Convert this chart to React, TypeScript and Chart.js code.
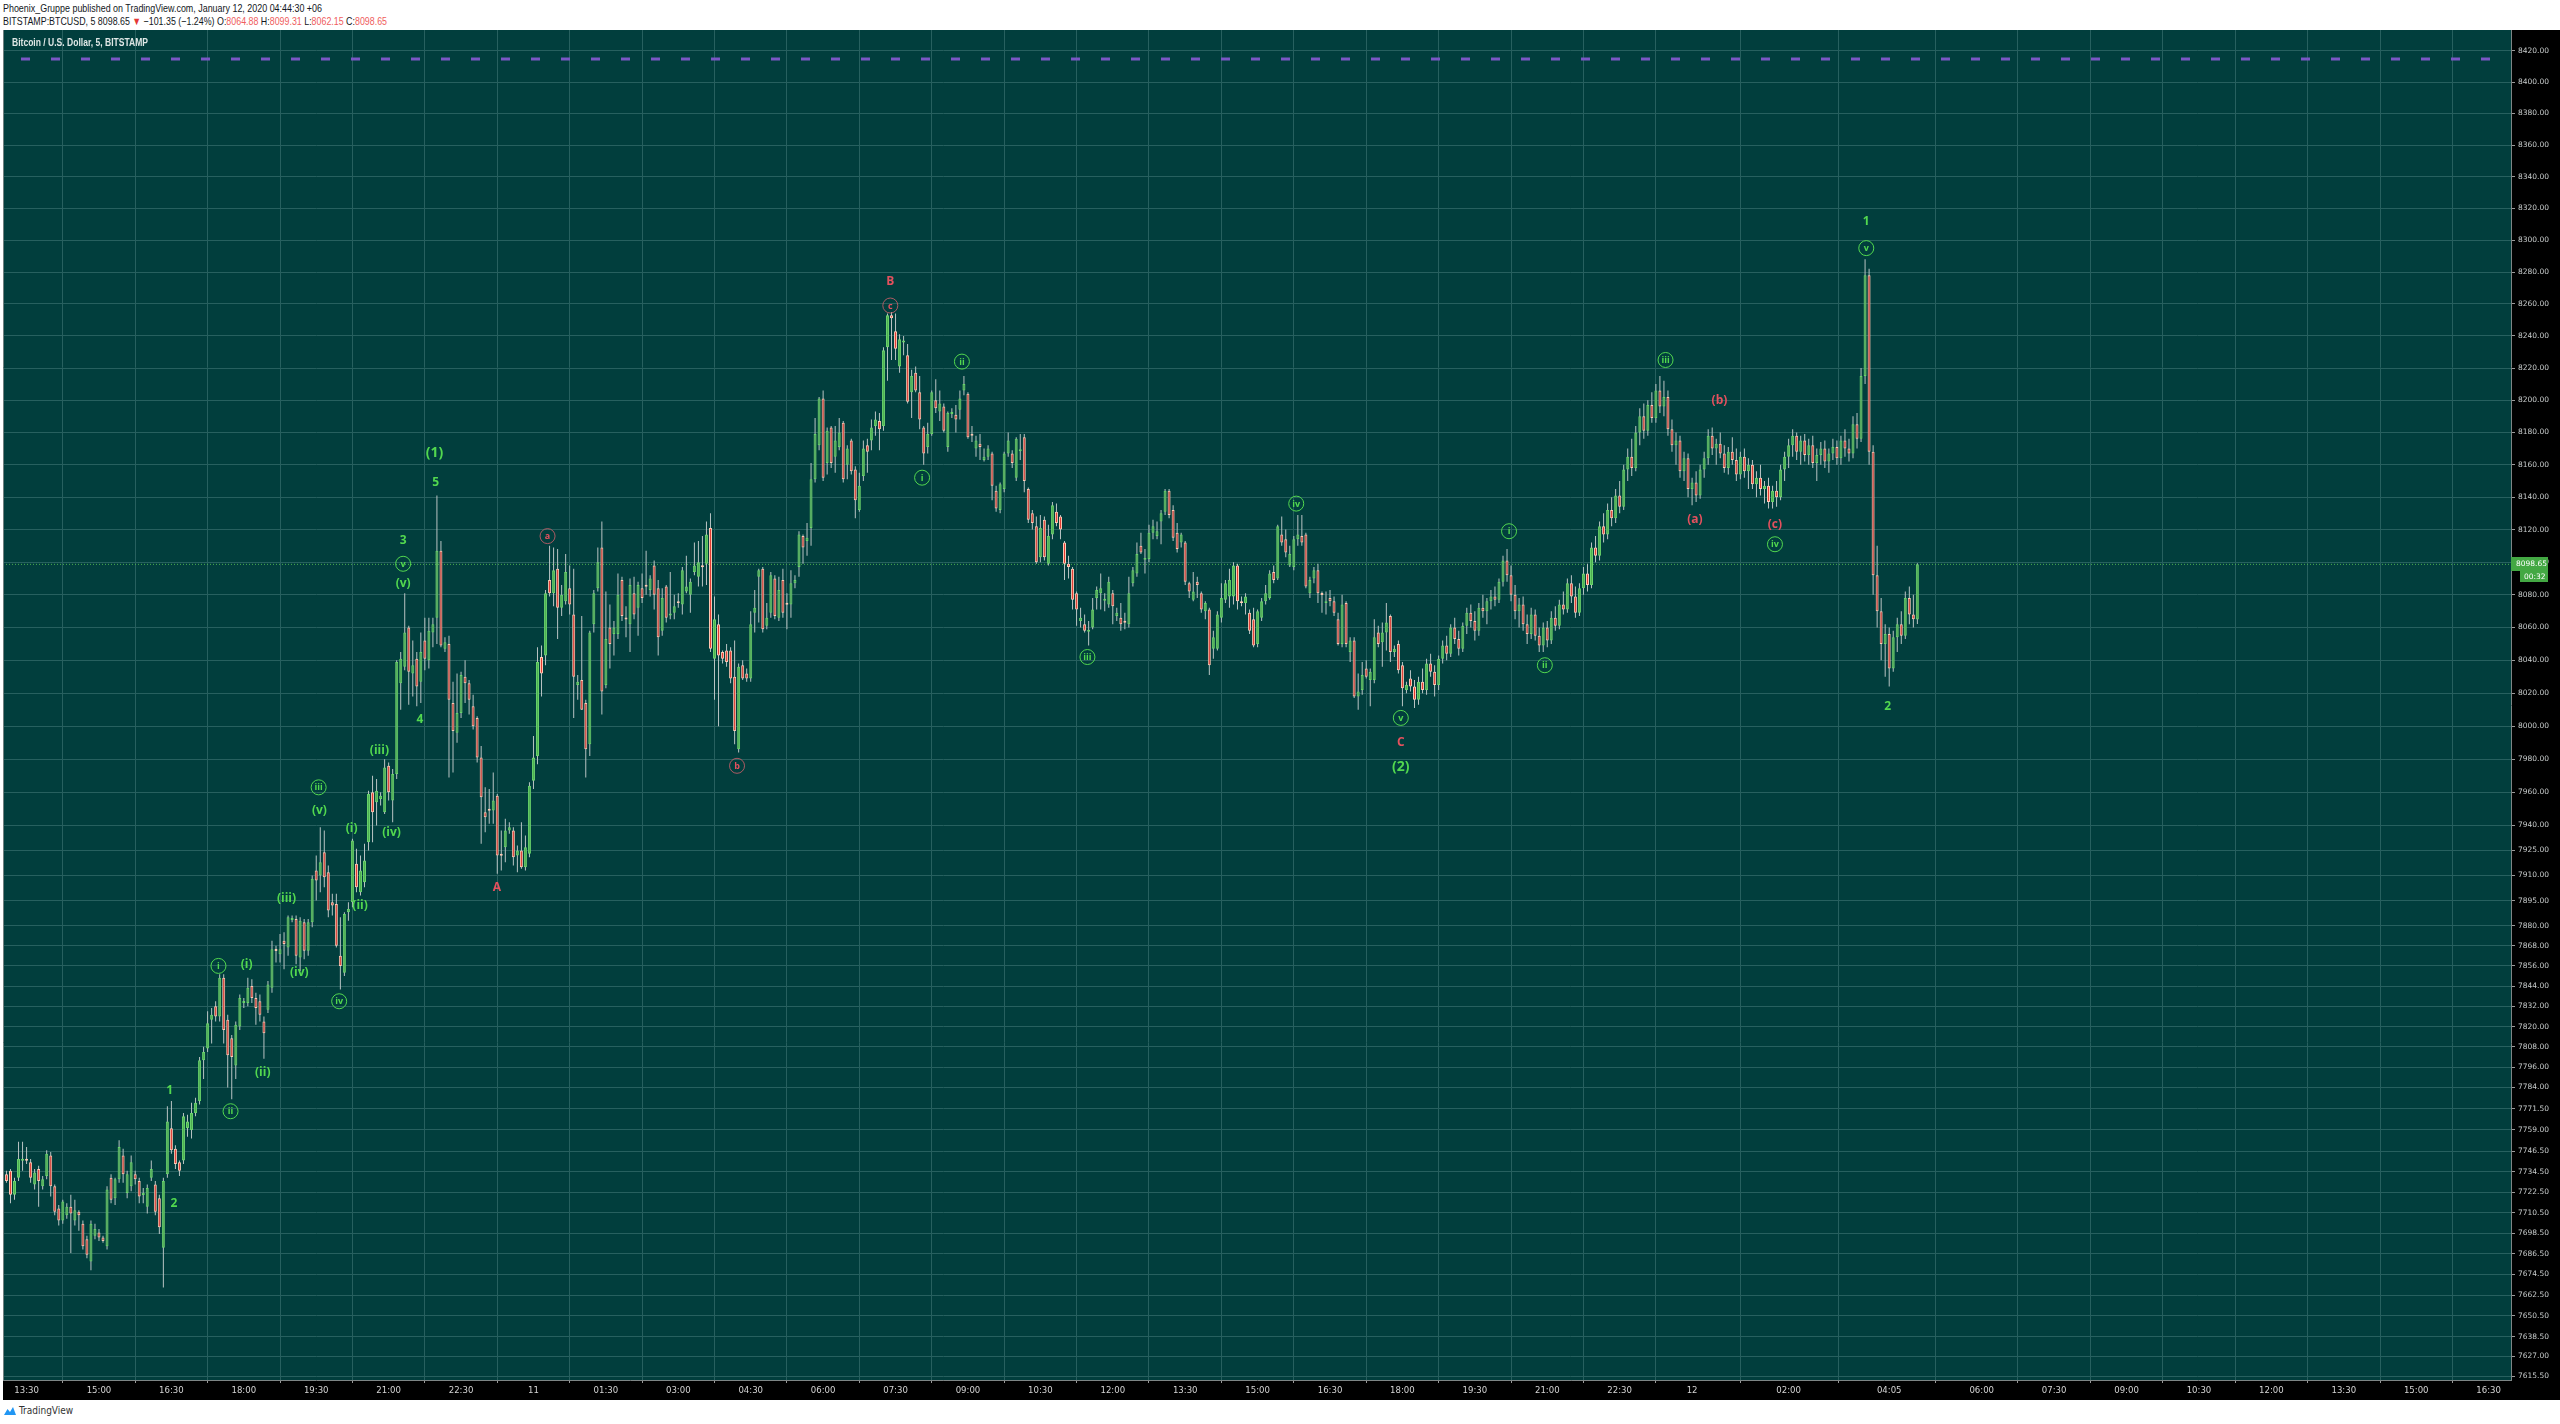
import React, { useEffect, useLayoutEffect, useRef } from 'react';
import { Chart, registerables } from 'chart.js';

Chart.register(...registerables);

// First bar time in minutes relative to 2020-01-11 00:00 (+06), 5-minute bars
const START_MIN = -655;
const BAR_MINUTES = 5;

const OPEN = [
  7733,7735,7721,7731,7741,7742,7740,7727,7736,7726,
  7732,7744,7726,7713,7706,7709,7714,7706,7711,7704,
  7695,7682,7697,7699,7696,7691,7731,7719,7730,7744,
  7722,7726,7733,7729,7721,7714,7731,7727,7719,7690,
  7733,7760,7748,7740,7741,7760,7759,7769,7776,7800,
  7807,7824,7832,7826,7849,7824,7813,7797,7820,7834,
  7834,7844,7837,7835,7823,7830,7843,7866,7863,7871,
  7867,7884,7884,7861,7882,7865,7882,7913,7910,7924,
  7912,7894,7893,7862,7852,7888,7894,7917,7900,7906,
  7930,7960,7954,7956,7948,7976,7955,7971,8026,8036,
  8060,8032,8041,8027,8052,8040,8057,8066,8107,8047,
  8050,8014,7996,8008,8030,8026,8012,8005,7981,7948,
  7950,7949,7958,7923,7927,7937,7937,7922,7925,7915,
  7923,7967,7982,8042,8043,8089,8081,8096,8072,8076,
  8084,8068,8025,8028,8014,7989,8062,8084,8109,8025,
  8060,8056,8056,8089,8066,8062,8081,8072,8084,8086,
  8083,8098,8084,8058,8085,8068,8069,8076,8074,8082,
  8080,8094,8091,8098,8099,8121,8041,8062,8045,8046,
  8046,8030,7986,8037,8032,8029,8069,8091,8096,8061,
  8069,8090,8066,8089,8075,8074,8087,8097,8116,8113,
  8121,8151,8172,8201,8161,8183,8165,8171,8186,8160,
  8175,8157,8132,8153,8172,8175,8184,8187,8184,8233,
  8253,8243,8221,8236,8228,8205,8217,8205,8183,8171,
  8179,8200,8193,8196,8171,8192,8191,8194,8206,8204,
  8179,8170,8173,8163,8165,8167,8144,8132,8145,8167,
  8167,8152,8169,8177,8145,8130,8122,8103,8126,8099,
  8117,8131,8128,8112,8099,8096,8081,8064,8062,8058,
  8060,8078,8081,8077,8074,8081,8067,8066,8064,8062,
  8087,8093,8110,8102,8102,8118,8116,8125,8131,8144,
  8132,8118,8112,8112,8087,8077,8088,8081,8070,8071,
  8047,8047,8066,8077,8079,8079,8098,8076,8075,8069,
  8065,8050,8066,8076,8078,8094,8090,8117,8114,8098,
  8097,8114,8116,8117,8081,8090,8095,8081,8075,8078,
  8076,8065,8050,8075,8045,8052,8018,8022,8035,8028,
  8028,8057,8051,8057,8067,8045,8050,8037,8022,8029,
  8024,8016,8027,8022,8038,8033,8025,8041,8049,8044,
  8060,8053,8047,8061,8069,8064,8058,8072,8070,8076,
  8079,8077,8088,8101,8092,8080,8070,8074,8062,8056,
  8068,8055,8049,8060,8052,8066,8061,8074,8071,8087,
  8079,8069,8084,8093,8086,8109,8104,8122,8117,8132,
  8127,8141,8134,8157,8165,8158,8180,8190,8181,8197,
  8189,8206,8196,8202,8182,8172,8175,8156,8164,8145,
  8149,8141,8157,8164,8178,8170,8173,8167,8158,8168,
  8163,8154,8165,8156,8160,8148,8152,8145,8147,8137,
  8144,8140,8157,8165,8172,8178,8168,8175,8166,8172,
  8161,8166,8170,8162,8167,8171,8164,8175,8170,8167,
  8185,8176,8215,8278,8168,8092,8070,8050,8056,8035,
  8054,8062,8055,8078,8068,8064.88,
];

const HIGH = [
  7735,7736,7731,7752,7752,7749,7742,7736,7738,7732,
  7747,7746,7727,7715,7718,7716,7721,7718,7712,7706,
  7697,7706,7704,7701,7697,7726,7733,7731,7753,7748,
  7735,7744,7735,7731,7725,7727,7741,7729,7721,7731,
  7773,7776,7750,7741,7769,7768,7775,7778,7802,7808,
  7829,7831,7835,7851,7851,7827,7815,7823,7839,7837,
  7849,7848,7840,7839,7826,7847,7871,7868,7875,7876,
  7886,7886,7886,7885,7884,7884,7910,7922,7939,7937,
  7916,7899,7899,7885,7888,7894,7932,7926,7922,7929,
  7961,7970,7968,7960,7980,7978,7974,8040,8045,8081,
  8061,8052,8045,8057,8066,8066,8066,8141,8113,8054,
  8055,8027,8032,8033,8040,8028,8019,8006,7988,7963,
  7962,7972,7959,7937,7944,7942,7939,7928,7942,7934,
  7966,7994,8048,8049,8083,8110,8109,8108,8086,8105,
  8098,8096,8031,8067,8016,8058,8083,8109,8125,8082,
  8074,8064,8093,8091,8073,8090,8091,8088,8093,8107,
  8092,8101,8089,8084,8086,8094,8080,8081,8097,8104,
  8090,8112,8113,8116,8125,8130,8079,8068,8046,8050,
  8048,8052,8038,8040,8035,8070,8083,8096,8097,8075,
  8094,8092,8091,8096,8081,8095,8092,8119,8117,8124,
  8161,8189,8202,8206,8183,8184,8184,8189,8187,8172,
  8176,8159,8155,8175,8176,8188,8193,8192,8233,8254,
  8255,8254,8241,8240,8235,8219,8221,8215,8184,8186,
  8206,8213,8206,8198,8193,8195,8197,8206,8215,8205,
  8184,8178,8179,8170,8172,8168,8147,8149,8168,8180,
  8169,8177,8179,8179,8146,8132,8128,8129,8128,8123,
  8137,8136,8129,8113,8104,8097,8082,8072,8068,8064,
  8078,8085,8093,8081,8091,8083,8072,8075,8069,8091,
  8097,8112,8118,8108,8123,8126,8125,8132,8145,8145,
  8135,8124,8118,8113,8088,8094,8091,8082,8076,8072,
  8058,8070,8087,8089,8096,8100,8099,8079,8081,8071,
  8072,8071,8078,8086,8095,8098,8123,8128,8120,8110,
  8116,8129,8129,8118,8091,8097,8099,8082,8082,8083,
  8079,8069,8080,8076,8054,8054,8032,8039,8040,8035,
  8065,8061,8063,8075,8068,8049,8052,8039,8027,8034,
  8028,8030,8035,8041,8044,8037,8043,8052,8055,8062,
  8066,8058,8063,8072,8074,8070,8075,8080,8078,8083,
  8085,8090,8104,8108,8098,8086,8078,8079,8068,8072,
  8071,8060,8063,8064,8070,8073,8077,8082,8090,8092,
  8085,8087,8097,8099,8112,8116,8125,8130,8136,8140,
  8145,8150,8160,8170,8176,8184,8195,8198,8200,8205,
  8210,8215,8212,8206,8188,8180,8178,8168,8167,8152,
  8156,8160,8168,8182,8183,8176,8180,8172,8171,8177,
  8170,8168,8170,8164,8163,8156,8160,8150,8152,8147,
  8150,8160,8168,8176,8182,8180,8178,8179,8176,8178,
  8170,8174,8175,8170,8176,8175,8178,8182,8176,8190,
  8192,8220,8288,8282,8172,8110,8078,8062,8060,8058,
  8066,8070,8082,8085,8080,8099.31,
];

const LOW = [
  7728,7716,7718,7729,7735,7739,7728,7724,7714,7724,
  7730,7720,7709,7703,7704,7707,7687,7703,7700,7689,
  7684,7677,7695,7694,7693,7689,7716,7715,7728,7728,
  7719,7723,7727,7716,7716,7710,7729,7709,7698,7667,
  7731,7745,7736,7732,7739,7755,7754,7767,7774,7789,
  7805,7810,7823,7823,7810,7784,7777,7789,7818,7831,
  7832,7834,7821,7823,7801,7828,7840,7858,7858,7854,
  7862,7882,7857,7853,7860,7862,7879,7895,7900,7903,
  7885,7886,7867,7842,7850,7883,7891,7900,7898,7903,
  7925,7930,7940,7952,7947,7955,7942,7968,8010,8034,
  8013,8018,8012,8014,8034,8035,8048,8050,8048,8045,
  7969,7972,7990,8005,8014,8007,7998,7978,7929,7936,
  7941,7941,7911,7913,7918,7935,7916,7912,7914,7913,
  7921,7962,7977,8018,8037,8079,8073,8053,8067,8074,
  8068,8005,8016,8010,7969,7982,8057,8082,8007,8023,
  8035,8043,8053,8064,8054,8045,8065,8055,8075,8080,
  8079,8071,8043,8055,8063,8065,8065,8072,8068,8081,
  8069,8092,8085,8085,8086,8045,8016,8000,8038,8036,
  8026,7989,7984,8028,8027,8027,8057,8063,8057,8059,
  8066,8065,8064,8066,8059,8066,8084,8091,8099,8104,
  8110,8149,8169,8150,8154,8158,8155,8169,8149,8151,
  8154,8127,8131,8150,8155,8169,8178,8169,8181,8212,
  8225,8225,8217,8228,8198,8189,8205,8182,8160,8167,
  8178,8192,8187,8180,8168,8189,8180,8188,8203,8176,
  8174,8165,8163,8162,8163,8138,8131,8130,8143,8165,
  8158,8150,8163,8143,8124,8120,8099,8100,8101,8098,
  8114,8122,8114,8089,8090,8071,8061,8060,8057,8049,
  8059,8071,8071,8070,8072,8062,8064,8058,8059,8060,
  8085,8091,8105,8093,8100,8114,8114,8111,8129,8127,
  8113,8106,8109,8086,8078,8076,8078,8069,8065,8031,
  8041,8046,8063,8075,8072,8074,8071,8073,8068,8056,
  8048,8048,8064,8074,8077,8087,8089,8110,8103,8097,
  8095,8110,8110,8084,8078,8087,8075,8069,8068,8073,
  8067,8049,8048,8048,8039,8017,8010,8019,8029,8012,
  8026,8048,8036,8046,8039,8042,8032,8012,8020,8021,
  8011,8013,8020,8019,8030,8018,8022,8038,8040,8042,
  8050,8043,8045,8056,8060,8052,8055,8066,8062,8071,
  8073,8075,8085,8088,8076,8065,8060,8058,8050,8053,
  8052,8045,8045,8048,8050,8058,8059,8068,8069,8075,
  8066,8067,8080,8082,8084,8100,8101,8112,8114,8122,
  8124,8130,8132,8150,8153,8156,8172,8176,8178,8186,
  8186,8192,8190,8178,8168,8160,8152,8150,8140,8135,
  8137,8139,8152,8160,8166,8160,8164,8155,8154,8160,
  8150,8151,8152,8145,8145,8140,8141,8136,8133,8133,
  8134,8138,8150,8158,8165,8163,8160,8162,8160,8158,
  8150,8160,8158,8155,8163,8160,8160,8165,8162,8164,
  8170,8174,8210,8160,8080,8060,8040,8030,8024,8033,
  8045,8050,8053,8062,8060,8062.15,
];

const CLOSE = [
  7729,7721,7729,7742,7742,7741,7731,7734,7729,7730,
  7745,7726,7711,7706,7717,7714,7710,7712,7709,7691,
  7686,7704,7701,7696,7694,7724,7718,7730,7749,7733,
  7733,7740,7730,7720,7722,7725,7736,7711,7702,7729,
  7764,7747,7739,7735,7767,7764,7769,7775,7800,7805,
  7822,7827,7826,7849,7818,7803,7802,7821,7837,7835,
  7843,7837,7831,7827,7816,7845,7866,7865,7866,7869,
  7885,7884,7862,7883,7865,7882,7908,7907,7918,7909,
  7889,7892,7868,7856,7887,7890,7931,7903,7913,7919,
  7959,7948,7961,7958,7975,7960,7971,8039,8041,8057,
  8033,8037,8024,8045,8041,8058,8062,8107,8049,8051,
  8016,7997,8008,8031,8026,8016,8000,7981,7957,7945,
  7949,7955,7922,7922,7937,7939,7921,7925,7915,7927,
  7964,7981,8039,8032,8081,8081,8095,8072,8080,8094,
  8074,8030,8027,8010,7986,8057,8081,8100,8021,8053,
  8050,8060,8080,8067,8065,8086,8068,8086,8078,8085,
  8090,8080,8054,8078,8066,8068,8073,8075,8095,8085,
  8088,8098,8100,8097,8117,8047,8065,8043,8041,8039,
  8029,7997,8036,8029,8029,8062,8072,8095,8059,8066,
  8092,8067,8083,8069,8074,8087,8089,8117,8109,8115,
  8151,8179,8201,8152,8181,8161,8175,8180,8151,8170,
  8156,8138,8147,8170,8168,8183,8188,8182,8231,8253,
  8251,8232,8238,8237,8199,8215,8206,8188,8167,8179,
  8205,8195,8198,8181,8192,8192,8188,8201,8210,8177,
  8178,8175,8171,8165,8170,8147,8133,8148,8167,8175,
  8161,8176,8169,8150,8126,8124,8100,8121,8103,8116,
  8135,8124,8120,8099,8097,8077,8071,8066,8058,8058,
  8071,8083,8084,8077,8088,8073,8069,8062,8063,8081,
  8095,8105,8106,8102,8118,8122,8119,8130,8144,8129,
  8115,8108,8117,8088,8082,8082,8086,8071,8075,8037,
  8054,8068,8078,8087,8089,8098,8076,8075,8079,8058,
  8049,8070,8076,8081,8093,8089,8122,8112,8106,8105,
  8114,8117,8112,8085,8089,8095,8081,8080,8076,8076,
  8069,8050,8074,8050,8052,8018,8021,8031,8030,8033,
  8054,8050,8057,8063,8045,8047,8034,8023,8025,8024,
  8016,8027,8022,8038,8033,8025,8041,8049,8044,8060,
  8053,8047,8061,8069,8064,8058,8072,8070,8076,8079,
  8077,8088,8101,8092,8080,8070,8074,8062,8056,8068,
  8055,8049,8060,8052,8066,8061,8074,8071,8087,8079,
  8069,8084,8093,8086,8109,8104,8122,8117,8132,8127,
  8141,8134,8157,8165,8158,8180,8190,8181,8197,8189,
  8206,8196,8202,8182,8172,8175,8156,8164,8145,8149,
  8141,8157,8164,8178,8170,8173,8167,8158,8168,8163,
  8154,8165,8156,8160,8148,8152,8145,8147,8137,8144,
  8140,8157,8165,8172,8178,8168,8175,8166,8172,8161,
  8166,8170,8162,8167,8171,8164,8175,8170,8167,8185,
  8176,8215,8278,8168,8092,8070,8050,8056,8035,8054,
  8062,8055,8078,8068,8065,8098.65,
];

// Right price axis (logarithmic) tick values
const PRICE_TICKS = [
  8420, 8400, 8380, 8360, 8340, 8320, 8300, 8280, 8260, 8240, 8220, 8200,
  8180, 8160, 8140, 8120, 8100, 8080, 8060, 8040, 8020, 8000, 7980, 7960,
  7940, 7925, 7910, 7895, 7880, 7868, 7856, 7844, 7832, 7820, 7808, 7796,
  7784, 7771.5, 7759, 7746.5, 7734.5, 7722.5, 7710.5, 7698.5, 7686.5,
  7674.5, 7662.5, 7650.5, 7638.5, 7627, 7615.5,
];

// Time axis ticks (minutes from 2020-01-11 00:00) and their labels
const TIME_TICKS = [
  -630, -540, -450, -360, -270, -180, -90, 0, 90, 180, 270, 360, 450, 540,
  630, 720, 810, 900, 990, 1080, 1170, 1260, 1350, 1440, 1560, 1685, 1800,
  1890, 1980, 2070, 2160, 2250, 2340, 2430,
];
const TIME_LABELS = [
  '13:30', '15:00', '16:30', '18:00', '19:30', '21:00', '22:30', '11', '01:30',
  '03:00', '04:30', '06:00', '07:30', '09:00', '10:30', '12:00', '13:30', '15:00',
  '16:30', '18:00', '19:30', '21:00', '22:30', '12', '02:00', '04:05', '06:00',
  '07:30', '09:00', '10:30', '12:00', '13:30', '15:00', '16:30',
];

const LAST_PRICE = 8098.65;
const COUNTDOWN = '00:32';
const PURPLE_LEVEL = 8414.7;

// Elliott wave labels: [bar index, price, text, colour g/r, kind 0 text / 1 circled / 2 large]
const WAVE_LABELS: [number, number, string, string, number][] = [
  [40.6, 7782, '1', 'g', 0],
  [41.6, 7716, '2', 'g', 0],
  [52.7, 7856, 'i', 'g', 1],
  [55.7, 7770, 'ii', 'g', 1],
  [59.7, 7857, '(i)', 'g', 0],
  [63.7, 7793, '(ii)', 'g', 0],
  [69.6, 7896, '(iii)', 'g', 0],
  [72.8, 7852, '(iv)', 'g', 0],
  [77.6, 7963, 'iii', 'g', 1],
  [77.8, 7949, '(v)', 'g', 0],
  [82.7, 7835, 'iv', 'g', 1],
  [85.8, 7938, '(i)', 'g', 0],
  [87.9, 7892, '(ii)', 'g', 0],
  [92.7, 7985, '(iii)', 'g', 0],
  [95.7, 7936, '(iv)', 'g', 0],
  [98.6, 8113, '3', 'g', 0],
  [98.6, 8099, 'v', 'g', 1],
  [98.6, 8087, '(v)', 'g', 0],
  [102.8, 8004, '4', 'g', 0],
  [106.4, 8167, '(1)', 'g', 2],
  [106.7, 8149, '5', 'g', 0],
  [121.9, 7903, 'A', 'r', 0],
  [134.5, 8116, 'a', 'r', 1],
  [181.6, 7976, 'b', 'r', 1],
  [219.7, 8274, 'B', 'r', 0],
  [219.7, 8259, 'c', 'r', 1],
  [227.6, 8152, 'i', 'g', 1],
  [237.5, 8224, 'ii', 'g', 1],
  [268.7, 8042, 'iii', 'g', 1],
  [320.6, 8136, 'iv', 'g', 1],
  [346.6, 8005, 'v', 'g', 1],
  [346.6, 7990, 'C', 'r', 0],
  [346.6, 7975, '(2)', 'g', 2],
  [373.5, 8119, 'i', 'g', 1],
  [382.4, 8037, 'ii', 'g', 1],
  [412.4, 8225, 'iii', 'g', 1],
  [419.7, 8126, '(a)', 'r', 0],
  [425.8, 8200, '(b)', 'r', 0],
  [439.6, 8123, '(c)', 'r', 0],
  [439.6, 8111, 'iv', 'g', 1],
  [462.3, 8312, '1', 'g', 0],
  [462.3, 8295, 'v', 'g', 1],
  [467.6, 8012, '2', 'g', 0],
];

const X_MIN = -659.3;
const X_MAX = 2457.8;
const Y_MIN = 7613.4;
const Y_MAX = 8433.2;

const BG = '#013e3d';
const GRID = '#27605f';
const UP_FILL = '#4caf50';
const UP_EDGE = '#69d36b';
const DOWN_FILL = '#e4382f';
const DOWN_EDGE = '#ffc9b4';
const WICK = '#b9c4c4';
const GREEN_TXT = '#52d84f';
const RED_TXT = '#e4515e';
const NARROW = '"Liberation Sans Narrow", "DejaVu Sans Condensed", sans-serif';

function FitText(props: { width: number; style: any; children: any }) {
  const ref = useRef<HTMLDivElement>(null);
  useLayoutEffect(() => {
    const el = ref.current;
    if (!el) return;
    el.style.transform = 'none';
    const w = el.getBoundingClientRect().width;
    if (w > 0) el.style.transform = `scaleX(${props.width / w})`;
  }, [props.width]);
  return (
    <div
      ref={ref}
      style={{
        position: 'absolute',
        display: 'inline-block',
        whiteSpace: 'nowrap',
        transformOrigin: 'left center',
        ...props.style,
      }}
    >
      {props.children}
    </div>
  );
}

export default function App() {
  const ref = useRef<HTMLCanvasElement>(null);

  useEffect(() => {
    const canvas = ref.current;
    if (!canvas) return;
    const n = Math.min(OPEN.length, HIGH.length, LOW.length, CLOSE.length);
    const wicks: any[] = [];
    const bodies: any[] = [];
    const fills: string[] = [];
    const edges: string[] = [];
    for (let i = 0; i < n; i++) {
      const x = START_MIN + BAR_MINUTES * i;
      const o = OPEN[i];
      const c = CLOSE[i];
      let lo = Math.min(o, c);
      let hi = Math.max(o, c);
      if (hi - lo < 1.2) {
        const m = (hi + lo) / 2;
        lo = m - 0.6;
        hi = m + 0.6;
      }
      wicks.push({ x, y: [LOW[i], HIGH[i]] });
      bodies.push({ x, y: [lo, hi] });
      const up = c >= o;
      fills.push(up ? UP_FILL : DOWN_FILL);
      edges.push(up ? UP_EDGE : DOWN_EDGE);
    }

    const bgPlugin = {
      id: 'bg',
      beforeDraw(chart: any) {
        const { ctx, chartArea: ca, width, height } = chart;
        ctx.save();
        ctx.fillStyle = '#000';
        ctx.fillRect(0, 0, width, height);
        ctx.fillStyle = BG;
        ctx.fillRect(ca.left, ca.top, ca.right - ca.left, ca.bottom - ca.top);
        ctx.restore();
      },
      afterDraw(chart: any) {
        const { ctx, chartArea: ca } = chart;
        ctx.save();
        ctx.strokeStyle = '#6f7f7f';
        ctx.lineWidth = 1;
        ctx.beginPath();
        ctx.moveTo(ca.left + 0.5, ca.top);
        ctx.lineTo(ca.left + 0.5, ca.bottom);
        ctx.stroke();
        const y = Math.round(chart.scales.y.getPixelForValue(LAST_PRICE));
        ctx.fillStyle = '#43a843';
        ctx.fillRect(ca.right, y - 7, 37, 14);
        ctx.fillRect(ca.right + 9, y + 7, 28, 11);
        ctx.fillStyle = '#ffffff';
        ctx.font = '7.5px "DejaVu Sans", sans-serif';
        ctx.textBaseline = 'middle';
        ctx.textAlign = 'left';
        ctx.fillText(LAST_PRICE.toFixed(2), ca.right + 5, y);
        ctx.fillText(COUNTDOWN, ca.right + 13, y + 13);
        ctx.restore();
      },
    };

    const wavePlugin = {
      id: 'waves',
      afterDatasetsDraw(chart: any) {
        const { ctx } = chart;
        const xs = chart.scales.x;
        const ys = chart.scales.y;
        ctx.save();
        ctx.textAlign = 'center';
        ctx.textBaseline = 'middle';
        for (const [k, p, t, col, kind] of WAVE_LABELS) {
          const px = xs.getPixelForValue(START_MIN + BAR_MINUTES * k);
          const py = ys.getPixelForValue(p);
          const color = col === 'g' ? GREEN_TXT : RED_TXT;
          ctx.fillStyle = color;
          if (kind === 1) {
            ctx.strokeStyle = col === 'g' ? GREEN_TXT : 'rgba(200,95,105,0.85)';
            ctx.lineWidth = 1;
            ctx.beginPath();
            ctx.arc(px, py, 7.5, 0, Math.PI * 2);
            ctx.stroke();
            ctx.font = 'bold 9px "Open Sans", sans-serif';
            ctx.fillText(t, px, py + 0.5);
          } else {
            ctx.font = kind === 2 ? 'bold 14px "Open Sans", sans-serif' : 'bold 12px "Open Sans", sans-serif';
            ctx.fillText(t, px, py);
          }
        }
        ctx.restore();
      },
    };

    const chart = new Chart(canvas, {
      type: 'bar',
      data: {
        datasets: [
          {
            type: 'line',
            data: [{ x: X_MIN, y: PURPLE_LEVEL }, { x: X_MAX, y: PURPLE_LEVEL }],
            borderColor: '#7a57c4',
            borderWidth: 3,
            borderDash: [9, 21],
            borderDashOffset: 12,
            pointRadius: 0,
            order: 3,
          } as any,
          {
            type: 'line',
            data: [{ x: X_MIN, y: LAST_PRICE }, { x: X_MAX, y: LAST_PRICE }],
            borderColor: '#4caf50',
            borderWidth: 1,
            borderDash: [1, 2],
            pointRadius: 0,
            order: 3,
          } as any,
          {
            data: wicks,
            backgroundColor: WICK,
            barThickness: 1,
            grouped: false,
            borderWidth: 0,
            inflateAmount: 0,
            order: 2,
          } as any,
          {
            data: bodies,
            backgroundColor: fills,
            borderColor: edges,
            borderWidth: 1,
            borderSkipped: false,
            barThickness: 3,
            grouped: false,
            inflateAmount: 0,
            order: 1,
          } as any,
        ],
      },
      options: {
        animation: false,
        responsive: false,
        maintainAspectRatio: false,
        events: [],
        layout: { padding: 0 },
        plugins: { legend: { display: false }, tooltip: { enabled: false } },
        scales: {
          x: {
            type: 'linear',
            min: X_MIN,
            max: X_MAX,
            offset: false,
            bounds: 'data',
            afterBuildTicks: (s: any) => {
              s.ticks = TIME_TICKS.map((v) => ({ value: v }));
            },
            afterFit: (s: any) => {
              s.height = 20;
              s.paddingLeft = 0;
              s.paddingRight = 0;
            },
            ticks: {
              autoSkip: false,
              maxRotation: 0,
              minRotation: 0,
              padding: 2,
              color: '#d4d4d4',
              font: { family: NARROW, size: 9.5 },
              callback: (v: any) => {
                const i = TIME_TICKS.indexOf(Number(v));
                return i >= 0 ? TIME_LABELS[i] : '';
              },
            },
            grid: { color: GRID, lineWidth: 1, drawTicks: true, tickLength: 3, tickColor: '#9a9a9a' },
            border: { display: true, color: '#7d8585', width: 1 },
          },
          y: {
            type: 'logarithmic',
            position: 'right',
            min: Y_MIN,
            max: Y_MAX,
            bounds: 'data',
            afterBuildTicks: (s: any) => {
              s.ticks = PRICE_TICKS.map((v) => ({ value: v }));
            },
            afterFit: (s: any) => {
              s.width = 49;
              s.paddingTop = 0;
              s.paddingBottom = 0;
            },
            ticks: {
              autoSkip: false,
              padding: 3,
              color: '#c8cccc',
              font: { family: '"DejaVu Sans", sans-serif', size: 7.5 },
              callback: (v: any) => Number(v).toFixed(2),
            },
            grid: { color: GRID, lineWidth: 1, drawTicks: true, tickLength: 4, tickColor: '#9a9a9a' },
            border: { display: true, color: '#7d8585', width: 1 },
          },
        },
      } as any,
      plugins: [bgPlugin, wavePlugin],
    });
    return () => chart.destroy();
  }, []);

  const red = { color: '#ef5d5d' };
  const headFont = { fontFamily: '"Liberation Sans", Arial, sans-serif', fontSize: 11, lineHeight: '13px', color: '#131722' };
  return (
    <div
      style={{
        position: 'absolute',
        left: 0,
        top: 0,
        width: 2560,
        height: 1424,
        background: '#ffffff',
        overflow: 'hidden',
        fontFamily: NARROW,
      }}
    >
      <FitText width={319} style={{ left: 3, top: 2, ...headFont }}>
        Phoenix_Gruppe published on TradingView.com, January 12, 2020 04:44:30 +06
      </FitText>
      <FitText width={384} style={{ left: 3, top: 15, ...headFont }}>
        BITSTAMP:BTCUSD, 5 8098.65 <span style={{ color: '#e53935' }}>▼</span> −101.35 (−1.24%) O:
        <span style={red}>8064.88</span> H:<span style={red}>8099.31</span> L:<span style={red}>8062.15</span> C:
        <span style={red}>8098.65</span>
      </FitText>
      <div style={{ position: 'absolute', left: 3, top: 30, width: 2557, height: 1370 }}>
        <canvas ref={ref} width={2557} height={1370} style={{ display: 'block', width: 2557, height: 1370 }} />
        <FitText
          width={136}
          style={{
            left: 9,
            top: 7,
            fontFamily: '"Liberation Sans", Arial, sans-serif',
            fontSize: 10,
            lineHeight: '12px',
            fontWeight: 'bold',
            color: '#dfe7e6',
          }}
        >
          Bitcoin / U.S. Dollar, 5, BITSTAMP
        </FitText>
      </div>
      <div style={{ position: 'absolute', left: 3, top: 1405, display: 'flex', alignItems: 'center', gap: 2 }}>
        <svg width="14" height="10" viewBox="0 0 14 10">
          <path d="M1 9 L4.5 3 L7 6 L10 1 L13 9 Z" fill="#2196f3" />
        </svg>
        <span style={{ fontSize: 10, color: '#333' }}>TradingView</span>
      </div>
    </div>
  );
}
